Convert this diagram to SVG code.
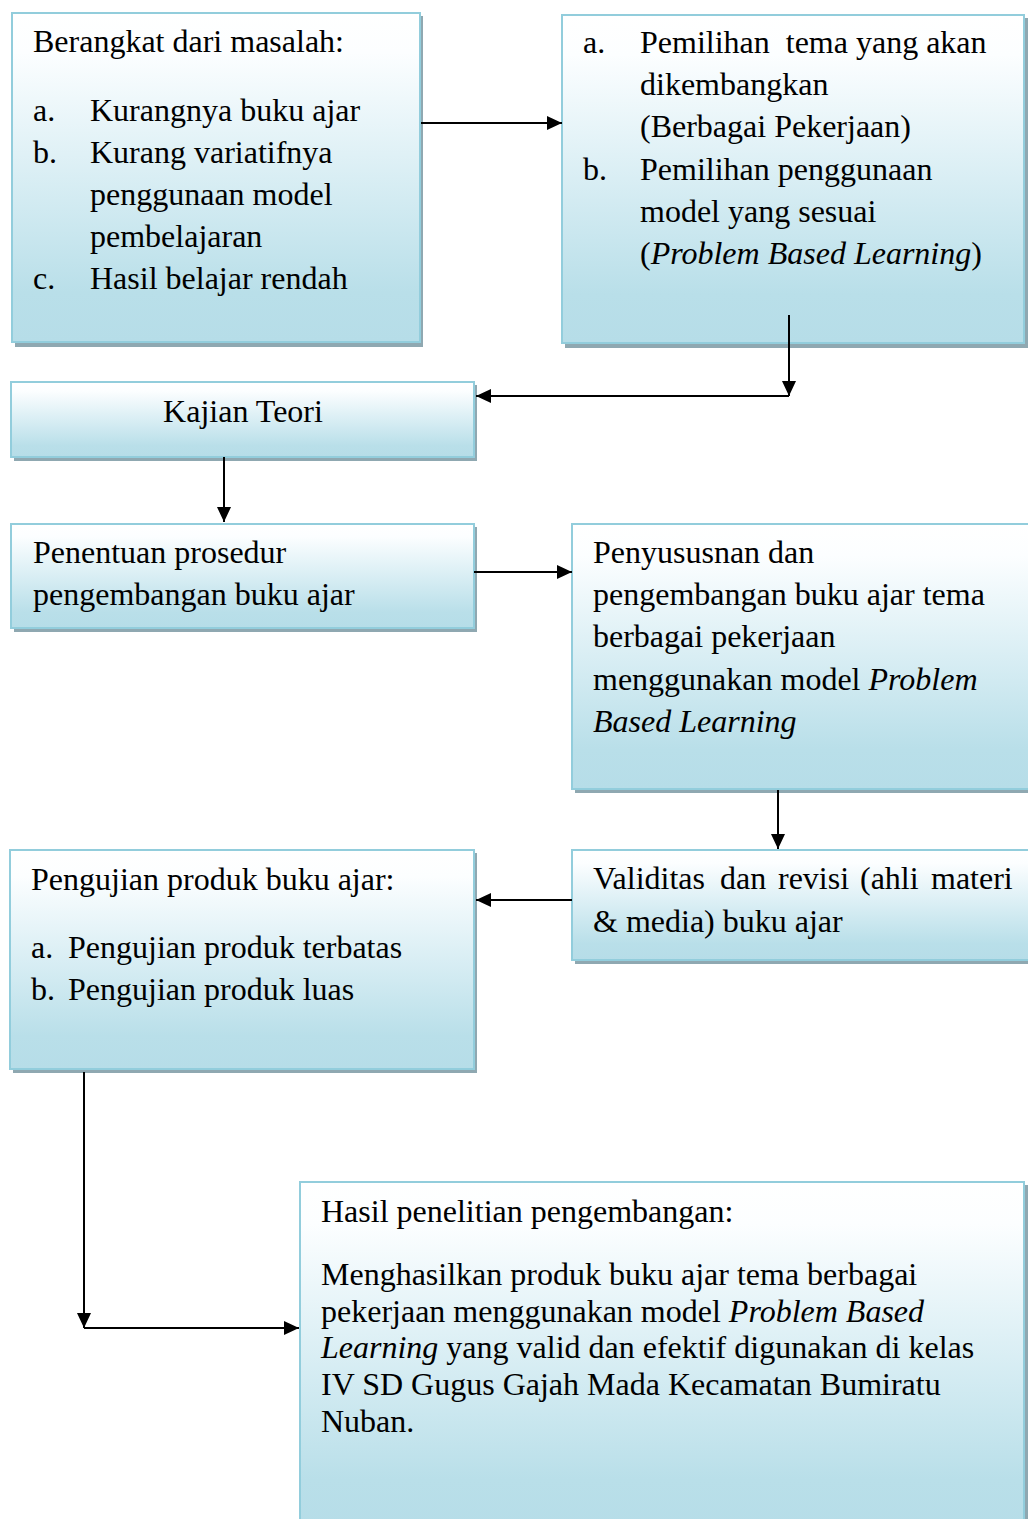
<svg xmlns="http://www.w3.org/2000/svg" width="1028" height="1519" viewBox="0 0 1028 1519">
<style>
  .box { fill: url(#g); stroke: #92cddc; stroke-width: 2; }
  .sh { fill: #8fa8b1; }
  text { font-family: "Liberation Serif", "Times New Roman", serif; font-size: 32px; fill: #000; }
  .i { font-style: italic; }
  .c { fill: none; stroke: #000; stroke-width: 2; }
</style>
<defs>
  <linearGradient id="g" x1="0" y1="0" x2="0" y2="1">
    <stop offset="0" stop-color="#ffffff"/>
    <stop offset="0.12" stop-color="#fcfeff"/>
    <stop offset="0.5" stop-color="#d9eef4"/>
    <stop offset="0.85" stop-color="#b9dfe9"/>
    <stop offset="1" stop-color="#b6dde8"/>
  </linearGradient>
  <marker id="a" markerUnits="userSpaceOnUse" markerWidth="15" markerHeight="14" refX="15" refY="7" orient="auto">
    <path d="M0,0 L15,7 L0,14 z" fill="#000"/>
  </marker>
</defs>

<g id="n1">
  <rect class="sh" x="15" y="16" width="408" height="331"/>
  <rect class="box" x="12" y="13" width="408" height="329"/>
  <text x="33" y="52">Berangkat dari masalah:</text>
  <text x="33" y="121">a.</text><text x="90" y="121">Kurangnya buku ajar</text>
  <text x="33" y="163">b.</text><text x="90" y="163">Kurang variatifnya</text>
  <text x="90" y="205">penggunaan model</text>
  <text x="90" y="247">pembelajaran</text>
  <text x="33" y="289">c.</text><text x="90" y="289">Hasil belajar rendah</text>
</g>

<g id="n2">
  <rect class="sh" x="565" y="18" width="463" height="330"/>
  <rect class="box" x="562" y="15" width="462" height="328"/>
  <text x="583" y="53">a.</text><text x="640" y="53" xml:space="preserve">Pemilihan  tema yang akan</text>
  <text x="640" y="95">dikembangkan</text>
  <text x="640" y="137">(Berbagai Pekerjaan)</text>
  <text x="583" y="180">b.</text><text x="640" y="180">Pemilihan penggunaan</text>
  <text x="640" y="222">model yang sesuai</text>
  <text x="640" y="264">(<tspan class="i">Problem Based Learning</tspan>)</text>
</g>

<g id="n3">
  <rect class="sh" x="14" y="385" width="463" height="76"/>
  <rect class="box" x="11" y="382" width="463" height="75"/>
  <text x="243" y="422" text-anchor="middle">Kajian Teori</text>
</g>

<g id="n4">
  <rect class="sh" x="14" y="527" width="463" height="105"/>
  <rect class="box" x="11" y="524" width="463" height="104"/>
  <text x="33" y="563">Penentuan prosedur</text>
  <text x="33" y="605">pengembangan buku ajar</text>
</g>

<g id="n5">
  <rect class="sh" x="575" y="527" width="470" height="266"/>
  <rect class="box" x="572" y="524" width="470" height="265"/>
  <text x="593" y="563">Penyususnan dan</text>
  <text x="593" y="605">pengembangan buku ajar tema</text>
  <text x="593" y="647">berbagai pekerjaan</text>
  <text x="593" y="690">menggunakan model <tspan class="i">Problem</tspan></text>
  <text x="593" y="732" class="i">Based Learning</text>
</g>

<g id="n6">
  <rect class="sh" x="575" y="853" width="470" height="111"/>
  <rect class="box" x="572" y="850" width="470" height="110"/>
  <text y="889"><tspan x="593">Validitas</tspan><tspan x="720">dan</tspan><tspan x="778">revisi</tspan><tspan x="860">(ahli</tspan><tspan x="931">materi</tspan></text>
  <text x="593" y="932">&amp; media) buku ajar</text>
</g>

<g id="n7">
  <rect class="sh" x="13" y="853" width="464" height="220"/>
  <rect class="box" x="10" y="850" width="464" height="219"/>
  <text x="31" y="890">Pengujian produk buku ajar:</text>
  <text x="31" y="958">a.</text><text x="68" y="958">Pengujian produk terbatas</text>
  <text x="31" y="1000">b.</text><text x="68" y="1000">Pengujian produk luas</text>
</g>

<g id="n8">
  <rect class="sh" x="303" y="1185" width="725" height="350"/>
  <rect class="box" x="300" y="1182" width="724" height="350"/>
  <text x="321" y="1222">Hasil penelitian pengembangan:</text>
  <text x="321" y="1285">Menghasilkan produk buku ajar tema berbagai</text>
  <text x="321" y="1322">pekerjaan menggunakan model <tspan class="i">Problem Based</tspan></text>
  <text x="321" y="1358"><tspan class="i">Learning</tspan> yang valid dan efektif digunakan di kelas</text>
  <text x="321" y="1395">IV SD Gugus Gajah Mada Kecamatan Bumiratu</text>
  <text x="321" y="1432">Nuban.</text>
</g>

<g id="connectors">
  <line class="c" x1="421" y1="123" x2="562" y2="123" marker-end="url(#a)"/>
  <line class="c" x1="789" y1="315" x2="789" y2="396" marker-end="url(#a)"/>
  <line class="c" x1="789" y1="396" x2="476" y2="396" marker-end="url(#a)"/>
  <line class="c" x1="224" y1="457" x2="224" y2="522" marker-end="url(#a)"/>
  <line class="c" x1="474" y1="572" x2="572" y2="572" marker-end="url(#a)"/>
  <line class="c" x1="778" y1="790" x2="778" y2="849" marker-end="url(#a)"/>
  <line class="c" x1="572" y1="900" x2="476" y2="900" marker-end="url(#a)"/>
  <line class="c" x1="84" y1="1072" x2="84" y2="1328" marker-end="url(#a)"/>
  <line class="c" x1="84" y1="1328" x2="299" y2="1328" marker-end="url(#a)"/>
</g>
</svg>
